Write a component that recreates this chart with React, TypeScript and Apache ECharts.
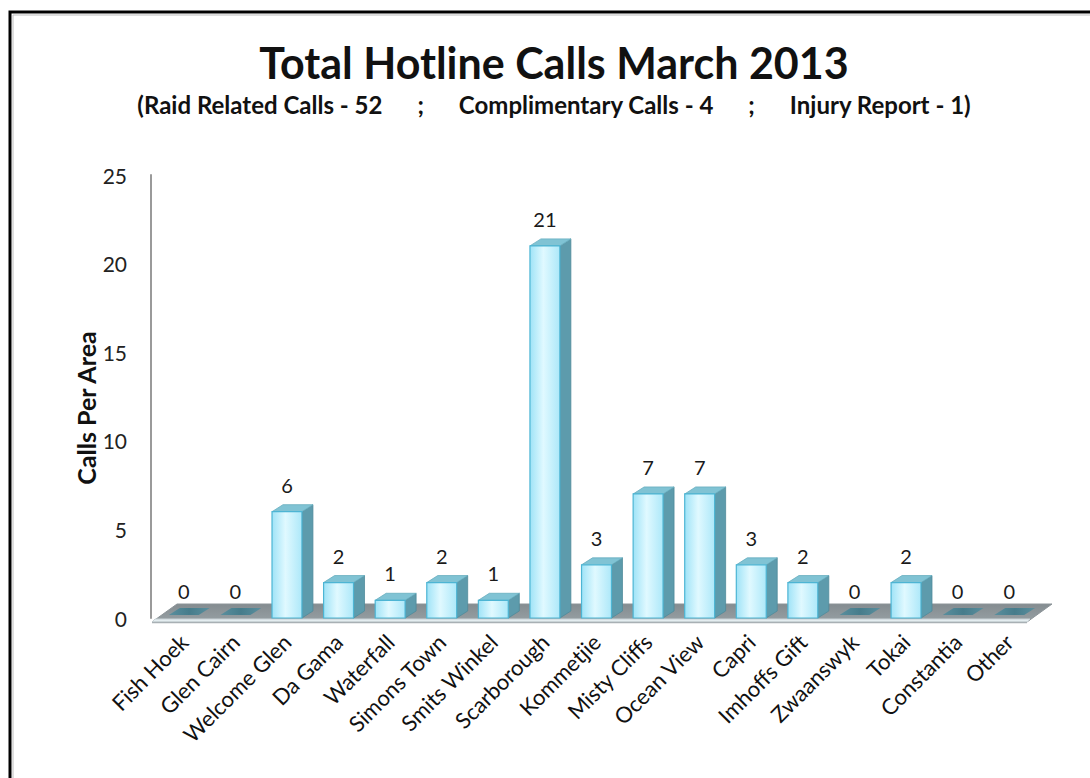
import React, { useEffect, useRef } from "react";
import * as echarts from "echarts";

const categories = [
  "Fish Hoek", "Glen Cairn", "Welcome Glen", "Da Gama", "Waterfall", "Simons Town",
  "Smits Winkel", "Scarborough", "Kommetjie", "Misty Cliffs", "Ocean View", "Capri",
  "Imhoffs Gift", "Zwaanswyk", "Tokai", "Constantia", "Other",
];
const calls = [0, 0, 6, 2, 1, 2, 1, 21, 3, 7, 7, 3, 2, 0, 2, 0, 0];
const yTicks = [0, 5, 10, 15, 20, 25];

const titleText = "Total Hotline Calls March 2013";
const subtitleText = "(Raid Related Calls - 52      ;      Complimentary Calls - 4      ;      Injury Report - 1)";
const yName = "Calls Per Area";

const FONT = "Lato, 'Open Sans', sans-serif";

export default function App() {
  const ref = useRef<HTMLDivElement>(null);
  useEffect(() => {
    if (!ref.current) return;
    const chart = echarts.init(ref.current, null, { renderer: "svg" });
    const DX = 11, DY = 7;
    const option: any = {
      animation: false,
      backgroundColor: "#ffffff",
      graphic: [
        { type: "rect", shape: { x: 10, y: 12, width: 1200, height: 900 }, style: { fill: "none", stroke: "#000", lineWidth: 3 }, z: 10 },
        { type: "rect", shape: { x: 13, y: 15, width: 1200, height: 900 }, style: { fill: "none", stroke: "#bdbdbd", lineWidth: 1 }, z: 10 },
        { type: "text", x: 554, y: 62, style: { text: titleText, font: `bold 43px ${FONT}`, fill: "#111", align: "center", verticalAlign: "middle" } },
        { type: "text", x: 554, y: 104, style: { text: subtitleText, font: `bold 24px ${FONT}`, fill: "#111", align: "center", verticalAlign: "middle" } },
        { type: "text", x: 86, y: 408, rotation: Math.PI / 2, style: { text: yName, font: `bold 25px ${FONT}`, fill: "#111", align: "center", verticalAlign: "middle" } },
      ],
      grid: { left: 158, top: 175, width: 877, height: 443 },
      xAxis: {
        type: "category",
        data: categories,
        axisLine: { show: false },
        axisTick: { show: false },
        axisLabel: { rotate: 45, margin: 20, fontSize: 22, color: "#111", fontFamily: FONT, interval: 0 },
      },
      yAxis: {
        type: "value",
        min: 0,
        max: 25,
        interval: 5,
        offset: 7,
        splitLine: { show: false },
        axisTick: { show: false },
        axisLine: { show: true, lineStyle: { color: "#9a9a9a", width: 2 } },
        axisLabel: { margin: 24, fontSize: 21, color: "#222", fontFamily: FONT, formatter: (v: number) => (yTicks.includes(v) ? String(v) : "") },
      },
      series: [
        {
          type: "custom",
          z: 1,
          data: [0],
          renderItem: (params: any, api: any) => {
            const cs = params.coordSys;
            const y0 = cs.y + cs.height;
            const fl = cs.x - 6, fr = cs.x + cs.width - 8;
            const bx = 25, by = 18;
            return {
              type: "group",
              children: [
                {
                  type: "polygon",
                  shape: { points: [[fl, y0 + 4], [fr, y0 + 4], [fr + bx, y0 + 4 - by], [fl + bx, y0 + 4 - by]] },
                  style: {
                    fill: new echarts.graphic.LinearGradient(0, 0, 0, 1, [
                      { offset: 0, color: "#848c90" },
                      { offset: 1, color: "#97a0a4" },
                    ]),
                    stroke: "#8c9498",
                    lineWidth: 1,
                  },
                },
                {
                  type: "polygon",
                  shape: { points: [[fl + 3, y0 + 1], [fr + 3, y0 + 1], [fr, y0 + 4], [fl, y0 + 4]] },
                  style: { fill: "#e4edf0", stroke: "#c8d2d6", lineWidth: 1 },
                },
                {
                  type: "line",
                  shape: { x1: fl, y1: y0 + 4.5, x2: fr, y2: y0 + 4.5 },
                  style: { stroke: "#a8b0b4", lineWidth: 1.5 },
                },
              ],
            };
          },
        },
        {
          type: "custom",
          z: 2,
          data: calls.map((v, i) => [i, v]),
          encode: { x: 0, y: 1 },
          renderItem: (params: any, api: any) => {
            const i = api.value(0);
            const v = api.value(1);
            const top = api.coord([i, v]);
            const base = api.coord([i, 0]);
            const band = api.size([1, 0])[0];
            const w = band * 0.58;
            const cx = top[0];
            const xl = cx - w / 2, xr = cx + w / 2;
            const y0 = base[1];
            const yt = top[1];
            const children: any[] = [];
            if (v <= 0) {
              children.push({
                type: "polygon",
                shape: { points: [[xl, y0 - 3], [xr, y0 - 3], [xr + DX, y0 - 3 - DY], [xl + DX, y0 - 3 - DY]] },
                style: {
                  fill: new echarts.graphic.LinearGradient(0, 0, 1, 0, [
                    { offset: 0, color: "#5a8f9e" },
                    { offset: 0.5, color: "#467c8b" },
                    { offset: 1, color: "#5a8f9e" },
                  ]),
                },
              });
            } else {
              children.push({
                type: "polygon",
                shape: { points: [[xr, yt], [xr + DX, yt - DY], [xr + DX, y0 - DY], [xr, y0]] },
                style: { fill: "#5d9bac", stroke: "#4f8a9b", lineWidth: 0.8 },
              });
              children.push({
                type: "polygon",
                shape: { points: [[xl, yt], [xl + DX, yt - DY], [xr + DX, yt - DY], [xr, yt]] },
                style: { fill: "#80c3d4", stroke: "#66adbf", lineWidth: 0.8 },
              });
              children.push({
                type: "rect",
                shape: { x: xl, y: yt, width: w, height: y0 - yt },
                style: {
                  fill: new echarts.graphic.LinearGradient(0, 0, 1, 0, [
                    { offset: 0, color: "#9fe3f7" },
                    { offset: 0.45, color: "#e0f9ff" },
                    { offset: 1, color: "#ade8f9" },
                  ]),
                  stroke: "#4db5d4",
                  lineWidth: 1.2,
                },
              });
            }
            children.push({
              type: "text",
              x: cx,
              y: yt - 27,
              style: { text: String(v), font: `20px ${FONT}`, fill: "#1a1a1a", align: "center", verticalAlign: "middle" },
            });
            return { type: "group", children };
          },
        },
      ],
    };
    chart.setOption(option);
    return () => chart.dispose();
  }, []);
  return <div ref={ref} style={{ position: "absolute", left: 0, top: 0, width: 1090, height: 778 }} />;
}
